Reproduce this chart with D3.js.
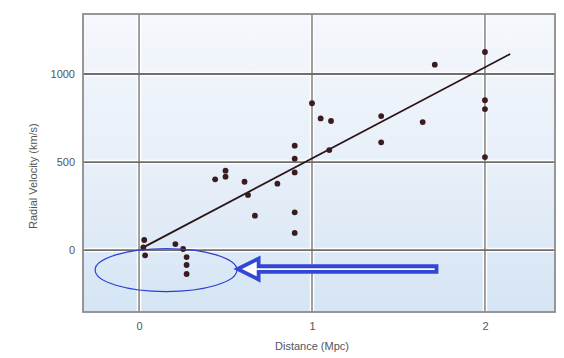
<!DOCTYPE html>
<html>
<head>
<meta charset="utf-8">
<script src="https://cdnjs.cloudflare.com/ajax/libs/d3/7.8.5/d3.min.js"></script>
<style>
  body { margin: 0; background: #fff; }
  text { font-family: "Liberation Sans", Arial, sans-serif; fill: #555; }
</style>
</head>
<body>
<div id="chart"></div>
<script>
// distances (Mpc) and radial velocities (km/s)
var distance = [0.03, 0.025, 0.035, 0.21, 0.255, 0.275, 0.275, 0.275,
  0.44, 0.50, 0.50, 0.61, 0.63, 0.67, 0.80,
  0.90, 0.90, 0.90, 0.90, 0.90,
  1.00, 1.05, 1.11, 1.10, 1.40, 1.40, 1.64, 1.71,
  2.00, 2.00, 2.00, 2.00];
var velocity = [57, 15, -30, 34, 6, -40, -85, -136,
  402, 451, 417, 388, 313, 195, 377,
  593, 519, 441, 214, 97,
  834, 748, 733, 568, 761, 612, 727, 1053,
  1125, 851, 801, 528];

// fitted line end points
var fitX = [0.025, 2.146];
var fitY = [15, 1114];

var xTicks = [0, 1, 2];
var yTicks = [0, 500, 1000];

// annotation (data units)
var ellipseCenter = [0.156, -114];
var ellipseRadius = [0.41, 122];
var arrowTip = [0.57, -108];
var arrowTail = 1.72;

var width = 564, height = 358;
var margin = { top: 14, right: 9, bottom: 46, left: 83 };

var svg = d3.select("#chart").append("svg")
  .attr("width", width)
  .attr("height", height);

var x = d3.scaleLinear().domain([-0.324, 2.405]).range([margin.left, width - margin.right]);
var y = d3.scaleLinear().domain([-352, 1341]).range([height - margin.bottom, margin.top]);

var defs = svg.append("defs");
var grad = defs.append("linearGradient")
  .attr("id", "bg").attr("x1", 0).attr("y1", 0).attr("x2", 0).attr("y2", 1);
grad.append("stop").attr("offset", "0%").attr("stop-color", "#f5f8fc");
grad.append("stop").attr("offset", "55%").attr("stop-color", "#e6eef8");
grad.append("stop").attr("offset", "100%").attr("stop-color", "#d5e5f4");

// plot background
svg.append("rect")
  .attr("x", x.range()[0]).attr("y", y.range()[1])
  .attr("width", x.range()[1] - x.range()[0])
  .attr("height", y.range()[0] - y.range()[1])
  .attr("fill", "url(#bg)");

// grid lines with a white halo
var grid = svg.append("g");
grid.selectAll(".vhalo").data(xTicks).enter().append("line")
  .attr("x1", d => x(d)).attr("x2", d => x(d))
  .attr("y1", y.range()[1]).attr("y2", y.range()[0])
  .attr("stroke", "#fff").attr("stroke-width", 4.5);
grid.selectAll(".hhalo").data(yTicks).enter().append("line")
  .attr("y1", d => y(d)).attr("y2", d => y(d))
  .attr("x1", x.range()[0]).attr("x2", x.range()[1])
  .attr("stroke", "#fff").attr("stroke-width", 4.5);
grid.selectAll(".v").data(xTicks).enter().append("line")
  .attr("x1", d => x(d)).attr("x2", d => x(d))
  .attr("y1", y.range()[1]).attr("y2", y.range()[0])
  .attr("stroke", "#888").attr("stroke-width", 1.6);
grid.selectAll(".h").data(yTicks).enter().append("line")
  .attr("y1", d => y(d)).attr("y2", d => y(d))
  .attr("x1", x.range()[0]).attr("x2", x.range()[1])
  .attr("stroke", "#6e6e6e").attr("stroke-width", 1.8);

// border
svg.append("rect")
  .attr("x", x.range()[0]).attr("y", y.range()[1])
  .attr("width", x.range()[1] - x.range()[0])
  .attr("height", y.range()[0] - y.range()[1])
  .attr("fill", "none").attr("stroke", "#8c8c8c").attr("stroke-width", 1.8);

// axes (labels only)
var xAxis = svg.append("g")
  .attr("transform", "translate(0," + (height - margin.bottom) + ")")
  .call(d3.axisBottom(x).tickValues(xTicks).tickSize(0).tickPadding(10).tickFormat(d3.format("d")));
var yAxis = svg.append("g")
  .attr("transform", "translate(" + margin.left + ",0)")
  .call(d3.axisLeft(y).tickValues(yTicks).tickSize(0).tickPadding(8).tickFormat(d3.format("d")));
svg.selectAll(".domain").remove();
svg.selectAll(".tick text")
  .attr("fill", "#555")
  .style("font-family", "'Liberation Sans', Arial, sans-serif")
  .style("font-size", "11px");

svg.append("text")
  .attr("x", x(1)).attr("y", 350)
  .attr("text-anchor", "middle")
  .style("font-size", "11px")
  .text("Distance (Mpc)");

svg.append("text")
  .attr("transform", "translate(37," + y(420) + ") rotate(-90)")
  .attr("text-anchor", "middle")
  .style("font-size", "11px")
  .text("Radial Velocity (km/s)");

// fitted line
svg.append("line")
  .attr("x1", x(fitX[0])).attr("y1", y(fitY[0]))
  .attr("x2", x(fitX[1])).attr("y2", y(fitY[1]))
  .attr("stroke", "#2a1416").attr("stroke-width", 1.8);

// points
svg.selectAll(".pt").data(distance).enter().append("circle")
  .attr("cx", d => x(d))
  .attr("cy", (d, i) => y(velocity[i]))
  .attr("r", 2.9)
  .attr("fill", "#3a1c20");

// annotation ellipse
svg.append("ellipse")
  .attr("cx", x(ellipseCenter[0])).attr("cy", y(ellipseCenter[1]))
  .attr("rx", x(ellipseCenter[0] + ellipseRadius[0]) - x(ellipseCenter[0]))
  .attr("ry", y(ellipseCenter[1] - ellipseRadius[1]) - y(ellipseCenter[1]))
  .attr("fill", "none").attr("stroke", "#2b3fd3").attr("stroke-width", 1.2);

// hollow arrow
var tx = x(arrowTip[0]), ty = y(arrowTip[1]);
var ex = x(arrowTail);
var headLen = 21, headHalf = 10.5, shaftHalf = 2.8;
var arrowPath = [
  [tx, ty],
  [tx + headLen, ty - headHalf],
  [tx + headLen, ty - shaftHalf],
  [ex, ty - shaftHalf],
  [ex, ty + shaftHalf],
  [tx + headLen, ty + shaftHalf],
  [tx + headLen, ty + headHalf]
];
svg.append("path")
  .attr("d", d3.line()(arrowPath) + "Z")
  .attr("fill", "#fff")
  .attr("stroke", "#3347d6")
  .attr("stroke-width", 3.8)
  .attr("stroke-linejoin", "miter");
</script>
</body>
</html>
